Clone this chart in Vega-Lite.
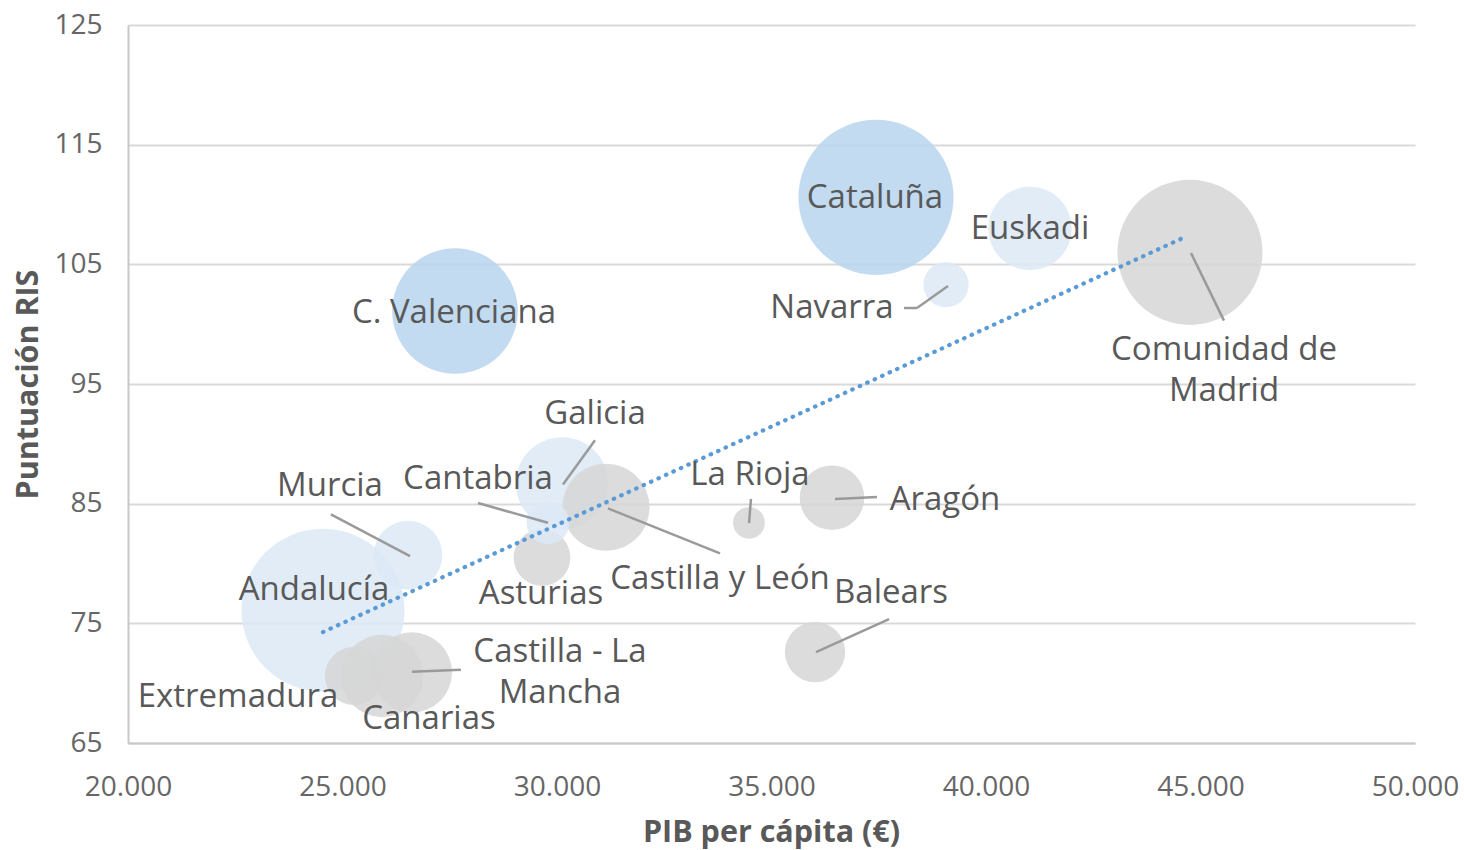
{
  "$schema": "https://vega.github.io/schema/vega-lite/v6.json",
  "width": 1287,
  "height": 718,
  "autosize": {"type": "none"},
  "padding": {"left": 128, "top": 25, "right": 49, "bottom": 107},
  "background": "white",
  "config": {
    "view": {"stroke": null},
    "font": "Open Sans",
    "axis": {
      "gridColor": "#d9d9d9",
      "gridWidth": 2,
      "domainColor": "#c8c8c8",
      "domainWidth": 2,
      "ticks": false,
      "labelColor": "#666666",
      "labelFont": "Open Sans",
      "labelFontSize": 28,
      "labelFlush": false,
      "labelOverlap": false,
      "titleColor": "#595959",
      "titleFont": "Open Sans",
      "titleFontSize": 30.5,
      "titleFontWeight": "bold"
    }
  },
  "datasets": {
    "regiones": [
      {"region": "Andalucía", "pib": 24545, "ris": 76.1, "poblacion": 8.41, "grupo": "g2"},
      {"region": "Cataluña", "pib": 37436, "ris": 110.6, "poblacion": 7.62, "grupo": "g1"},
      {"region": "Comunidad de Madrid", "pib": 44755, "ris": 106.0, "poblacion": 6.66, "grupo": "g3"},
      {"region": "C. Valenciana", "pib": 27622, "ris": 101.1, "poblacion": 5.00, "grupo": "g1"},
      {"region": "Galicia", "pib": 30117, "ris": 86.7, "poblacion": 2.70, "grupo": "g2"},
      {"region": "Castilla y León", "pib": 31142, "ris": 84.7, "poblacion": 2.40, "grupo": "g3"},
      {"region": "Euskadi", "pib": 41026, "ris": 108.0, "poblacion": 2.21, "grupo": "g2"},
      {"region": "Canarias", "pib": 25921, "ris": 70.6, "poblacion": 2.15, "grupo": "g3"},
      {"region": "Castilla - La Mancha", "pib": 26620, "ris": 70.9, "poblacion": 2.03, "grupo": "g3"},
      {"region": "Murcia", "pib": 26527, "ris": 80.7, "poblacion": 1.49, "grupo": "g2"},
      {"region": "Aragón", "pib": 36410, "ris": 85.5, "poblacion": 1.32, "grupo": "g3"},
      {"region": "Balears", "pib": 36014, "ris": 72.6, "poblacion": 1.15, "grupo": "g3"},
      {"region": "Extremadura", "pib": 25268, "ris": 70.6, "poblacion": 1.07, "grupo": "g3"},
      {"region": "Asturias", "pib": 29650, "ris": 80.5, "poblacion": 1.02, "grupo": "g3"},
      {"region": "Navarra", "pib": 39068, "ris": 103.3, "poblacion": 0.65, "grupo": "g2"},
      {"region": "Cantabria", "pib": 29790, "ris": 83.4, "poblacion": 0.58, "grupo": "g2"},
      {"region": "La Rioja", "pib": 34476, "ris": 83.4, "poblacion": 0.32, "grupo": "g3"}
    ],
    "tendencia": [
      {"pib": 24545, "ris": 74.27},
      {"pib": 44639, "ris": 107.28}
    ],
    "guias": [
      {"region": "Navarra", "x1": 38089, "y1": 101.35, "x2": 38392, "y2": 101.35},
      {"region": "Navarra", "x1": 38392, "y1": 101.35, "x2": 39114, "y2": 103.19},
      {"region": "Comunidad de Madrid", "x1": 44778, "y1": 105.95, "x2": 45548, "y2": 100.3},
      {"region": "Galicia", "x1": 30140, "y1": 86.6, "x2": 30886, "y2": 90.3},
      {"region": "Cantabria", "x1": 28159, "y1": 85.05, "x2": 29790, "y2": 83.4},
      {"region": "Castilla y León", "x1": 31188, "y1": 84.6, "x2": 33800, "y2": 80.85},
      {"region": "La Rioja", "x1": 34476, "y1": 83.38, "x2": 34522, "y2": 85.4},
      {"region": "Aragón", "x1": 36480, "y1": 85.4, "x2": 37460, "y2": 85.55},
      {"region": "Balears", "x1": 36037, "y1": 72.6, "x2": 37740, "y2": 75.35},
      {"region": "Murcia", "x1": 24730, "y1": 84.1, "x2": 26574, "y2": 80.62},
      {"region": "Castilla - La Mancha", "x1": 26620, "y1": 70.95, "x2": 27760, "y2": 71.12}
    ],
    "etiquetas": [
      {"texto": "Cataluña", "x": 37413, "y": 110.54},
      {"texto": "Euskadi", "x": 41026, "y": 107.95},
      {"texto": "Navarra", "x": 36410, "y": 101.35},
      {"texto": "C. Valenciana", "x": 27599, "y": 100.93},
      {"texto": "Comunidad de\nMadrid", "x": 45548, "y": 97.88},
      {"texto": "Galicia", "x": 30886, "y": 92.49},
      {"texto": "Cantabria", "x": 28159, "y": 87.06},
      {"texto": "La Rioja", "x": 34499, "y": 87.39},
      {"texto": "Aragón", "x": 39044, "y": 85.30},
      {"texto": "Murcia", "x": 24709, "y": 86.47},
      {"texto": "Castilla y León", "x": 33800, "y": 78.70},
      {"texto": "Asturias", "x": 29627, "y": 77.45},
      {"texto": "Balears", "x": 37786, "y": 77.53},
      {"texto": "Andalucía", "x": 24336, "y": 77.8},
      {"texto": "Castilla - La\nMancha", "x": 30070, "y": 72.60},
      {"texto": "Extremadura", "x": 22564, "y": 68.84},
      {"texto": "Canarias", "x": 27016, "y": 67.00}
    ]
  },
  "layer": [
    {
      "data": {"name": "regiones"},
      "mark": {"type": "circle", "opacity": 0.85, "strokeWidth": 0},
      "encoding": {
        "x": {
          "field": "pib", "type": "quantitative",
          "scale": {"domain": [20000, 50000], "nice": false, "zero": false},
          "axis": {
            "grid": false,
            "values": [20000, 25000, 30000, 35000, 40000, 45000, 50000],
            "labelExpr": "replace(format(datum.value, ','), ',', '.')",
            "labelPadding": 30,
            "title": "PIB per cápita (€)",
            "titleX": 643,
            "titleY": 89,
            "titleBaseline": "middle"
          }
        },
        "y": {
          "field": "ris", "type": "quantitative",
          "scale": {"domain": [65, 125], "nice": false, "zero": false},
          "axis": {
            "grid": true,
            "values": [65, 75, 85, 95, 105, 115, 125],
            "labelPadding": 26,
            "title": "Puntuación RIS",
            "titleX": -100,
            "titleY": 359,
            "titleBaseline": "middle"
          }
        },
        "size": {
          "field": "poblacion", "type": "quantitative",
          "scale": {"type": "linear", "domain": [0, 10], "range": [0, 31590], "zero": true},
          "legend": null
        },
        "color": {
          "field": "grupo", "type": "nominal",
          "scale": {"domain": ["g1", "g2", "g3"], "range": ["#b9d5ef", "#dce9f6", "#d6d6d6"]},
          "legend": null
        }
      }
    },
    {
      "data": {"name": "tendencia"},
      "mark": {"type": "line", "color": "#5b9bd5", "strokeWidth": 4.2, "strokeCap": "round", "strokeDash": [0.5, 7.7]},
      "encoding": {
        "x": {"field": "pib", "type": "quantitative"},
        "y": {"field": "ris", "type": "quantitative"}
      }
    },
    {
      "data": {"name": "guias"},
      "mark": {"type": "rule", "color": "#9a9a9a", "strokeWidth": 2.5},
      "encoding": {
        "x": {"field": "x1", "type": "quantitative"},
        "y": {"field": "y1", "type": "quantitative"},
        "x2": {"field": "x2"},
        "y2": {"field": "y2"}
      }
    },
    {
      "data": {"name": "etiquetas"},
      "mark": {"type": "text", "font": "Open Sans", "fontSize": 33, "color": "#595959", "align": "center", "baseline": "middle", "lineBreak": "\n", "lineHeight": 41},
      "encoding": {
        "x": {"field": "x", "type": "quantitative"},
        "y": {"field": "y", "type": "quantitative"},
        "text": {"field": "texto", "type": "nominal"}
      }
    }
  ]
}
